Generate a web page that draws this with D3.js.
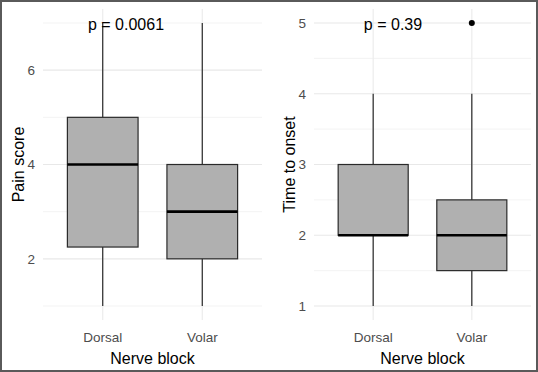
<!DOCTYPE html>
<html>
<head>
<meta charset="utf-8">
<script src="https://cdn.jsdelivr.net/npm/d3@7"></script>
<style>
  body { margin: 0; background: #fff; }
  svg { display: block; }
  text { font-family: "Liberation Sans", Arial, sans-serif; }
</style>
</head>
<body>
<svg id="chart" width="538" height="372"></svg>
<script>
// region Data
const groups = ['Dorsal', 'Volar'];

// pain score box stats: [lowWhisker, q1, median, q3, highWhisker]
const painStats = [
    [1, 2.25, 4, 5, 7],
    [1, 2, 3, 4, 7],
];
const painOutliers = [[], []];
const painTicks = [2, 4, 6];
const painMinor = [1, 3, 5, 7];

// time to onset
const onsetStats = [
    [1, 2, 2, 3, 4],
    [1, 1.5, 2, 2.5, 4],
];
const onsetOutliers = [[], [5]];
const onsetTicks = [1, 2, 3, 4, 5];
const onsetMinor = [1.5, 2.5, 3.5, 4.5];

const pLabels = ['p = 0.0061', 'p = 0.39'];
// endregion

const svg = d3.select('#chart');
const W = 538, H = 372;

// outer frame
svg.append('rect')
    .attr('x', 1).attr('y', 1)
    .attr('width', W - 2).attr('height', H - 2)
    .attr('fill', 'none')
    .attr('stroke', '#5a5a5a')
    .attr('stroke-width', 2);

function drawPanel(opt) {
    let g = svg.append('g');

    const y = d3.scaleLinear()
        .domain(opt.domain)
        .range([opt.bottom, opt.top]);

    const x = d3.scalePoint()
        .domain(opt.groups)
        .range([opt.left, opt.right])
        .padding(0.6);

    const step = x.step();
    const boxW = step * 0.71;

    // minor grid
    g.selectAll('.minor')
        .data(opt.minor).enter()
        .append('line')
        .attr('x1', opt.left).attr('x2', opt.right)
        .attr('y1', d => y(d)).attr('y2', d => y(d))
        .attr('stroke', '#f0f0f0')
        .attr('stroke-width', 0.8);

    // major grid
    g.selectAll('.major')
        .data(opt.ticks).enter()
        .append('line')
        .attr('x1', opt.left).attr('x2', opt.right)
        .attr('y1', d => y(d)).attr('y2', d => y(d))
        .attr('stroke', '#e8e8e8')
        .attr('stroke-width', 1.2);

    // vertical grid
    g.selectAll('.vgrid')
        .data(opt.groups).enter()
        .append('line')
        .attr('x1', d => x(d)).attr('x2', d => x(d))
        .attr('y1', opt.top - 14).attr('y2', opt.bottom + 14)
        .attr('stroke', '#ececec')
        .attr('stroke-width', 1.2);

    // y tick labels
    g.selectAll('.ylab')
        .data(opt.ticks).enter()
        .append('text')
        .attr('x', opt.left - 8)
        .attr('y', d => y(d))
        .attr('dy', '0.36em')
        .attr('text-anchor', 'end')
        .attr('font-size', 13.5)
        .attr('fill', '#4d4d4d')
        .text(d => d);

    // x tick labels
    g.selectAll('.xlab')
        .data(opt.groups).enter()
        .append('text')
        .attr('x', d => x(d))
        .attr('y', opt.bottom + 36)
        .attr('text-anchor', 'middle')
        .attr('font-size', 13.5)
        .attr('fill', '#4d4d4d')
        .text(d => d);

    // axis titles
    g.append('text')
        .attr('x', (opt.left + opt.right) / 2)
        .attr('y', opt.bottom + 58)
        .attr('text-anchor', 'middle')
        .attr('font-size', 16)
        .attr('fill', '#000')
        .text('Nerve block');

    g.append('text')
        .attr('transform', `translate(${opt.left - 19},${(opt.top + opt.bottom) / 2}) rotate(-90)`)
        .attr('text-anchor', 'middle')
        .attr('font-size', 16)
        .attr('fill', '#000')
        .text(opt.ytitle);

    let boxes = g.selectAll('.box')
        .data(opt.stats).enter()
        .append('g');

    // whiskers
    boxes.append('line')
        .attr('x1', (d, i) => x(opt.groups[i])).attr('x2', (d, i) => x(opt.groups[i]))
        .attr('y1', d => y(d[0])).attr('y2', d => y(d[1]))
        .attr('stroke', '#2a2a2a').attr('stroke-width', 1.2);
    boxes.append('line')
        .attr('x1', (d, i) => x(opt.groups[i])).attr('x2', (d, i) => x(opt.groups[i]))
        .attr('y1', d => y(d[3])).attr('y2', d => y(d[4]))
        .attr('stroke', '#2a2a2a').attr('stroke-width', 1.2);

    boxes.append('rect')
        .attr('x', (d, i) => x(opt.groups[i]) - boxW / 2)
        .attr('y', d => y(d[3]))
        .attr('width', boxW)
        .attr('height', d => y(d[1]) - y(d[3]))
        .attr('fill', '#b0b0b0')
        .attr('stroke', '#2a2a2a')
        .attr('stroke-width', 1.2);

    boxes.append('line')
        .attr('x1', (d, i) => x(opt.groups[i]) - boxW / 2)
        .attr('x2', (d, i) => x(opt.groups[i]) + boxW / 2)
        .attr('y1', d => y(d[2])).attr('y2', d => y(d[2]))
        .attr('stroke', '#000').attr('stroke-width', 2.6);

    // outliers
    opt.outliers.forEach((arr, i) => {
        g.selectAll(null)
            .data(arr).enter()
            .append('circle')
            .attr('cx', x(opt.groups[i]))
            .attr('cy', d => y(d))
            .attr('r', 3)
            .attr('fill', '#000');
    });

    // p value
    g.append('text')
        .attr('x', opt.pX)
        .attr('y', y(opt.domain[1]) + 7)
        .attr('text-anchor', 'middle')
        .attr('font-size', 16)
        .attr('fill', '#000')
        .text(opt.pLabel);
}

drawPanel({
    groups: groups,
    stats: painStats,
    outliers: painOutliers,
    ticks: painTicks,
    minor: painMinor,
    domain: [1, 7],
    top: 23, bottom: 306,
    left: 43, right: 262,
    ytitle: 'Pain score',
    pLabel: pLabels[0],
    pX: 126,
});

drawPanel({
    groups: groups,
    stats: onsetStats,
    outliers: onsetOutliers,
    ticks: onsetTicks,
    minor: onsetMinor,
    domain: [1, 5],
    top: 23, bottom: 306,
    left: 314, right: 531,
    ytitle: 'Time to onset',
    pLabel: pLabels[1],
    pX: 393,
});
</script>
</body>
</html>
